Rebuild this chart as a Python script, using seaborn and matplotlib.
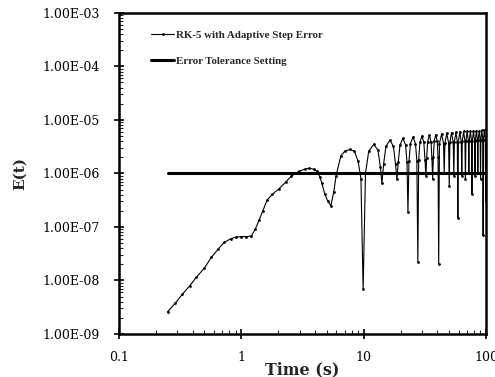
import pandas as pd
import seaborn as sns
import matplotlib.pyplot as plt
from matplotlib.ticker import FixedLocator, FixedFormatter, LogLocator, NullFormatter

# RK-5 error vs time
time_s = [0.25, 0.29, 0.33, 0.38, 0.43, 0.5, 0.57, 0.65, 0.73, 0.82, 0.91, 1.0, 1.1, 1.21,
          1.3, 1.4, 1.5, 1.63, 1.8, 2.04, 2.3, 2.55, 2.97, 3.3, 3.6, 3.9, 4.16, 4.4, 4.56,
          4.8, 5.1, 5.4, 5.7, 5.95, 6.5, 7.0, 7.7, 8.4, 9.0, 9.5, 9.9,
          10.35, 11.0, 12.1, 13.1, 13.7, 14.1,
          14.55, 15.2, 16.4, 17.5, 18.2, 18.7,
          19.15, 19.8, 20.9, 22.0, 22.6, 23.0,
          23.45, 24.1, 25.3, 26.5, 27.2, 27.7,
          28.15, 28.8, 29.9, 31.0, 31.7, 32.2,
          32.7, 33.3, 34.4, 35.5, 36.1, 36.6,
          37.1, 37.7, 38.8, 39.9, 40.5, 41.0,
          41.6, 43.3, 44.9, 45.5,
          46.1, 47.7, 49.4, 50.0,
          50.6, 52.2, 53.9, 54.5,
          55.1, 56.7, 58.2, 58.8,
          59.4, 61.0, 62.7, 63.3,
          63.9, 65.5, 67.2, 67.8,
          68.4, 70.0, 71.7, 72.3,
          72.9, 74.4, 76.0, 76.6,
          77.2, 78.9, 80.5, 81.1,
          81.7, 83.4, 85.0, 85.6,
          86.2, 87.9, 89.5, 90.1,
          90.7, 92.3, 94.0, 94.6,
          95.2, 96.9, 98.5, 99.1, 100.0]
error = [2.6e-9, 3.8e-9, 5.5e-9, 8e-9, 1.15e-8, 1.7e-8, 2.7e-8, 3.9e-8, 5.2e-8, 6.0e-8,
         6.5e-8, 6.6e-8, 6.6e-8, 6.8e-8, 9e-8, 1.35e-7, 2.0e-7, 3.2e-7, 4.1e-7, 5.2e-7,
         6.8e-7, 8.8e-7, 1.1e-6, 1.2e-6, 1.25e-6, 1.2e-6, 1.1e-6, 8.5e-7, 6.5e-7, 4.2e-7,
         3.0e-7, 2.5e-7, 4.5e-7, 9e-7, 2.1e-6, 2.6e-6, 2.8e-6, 2.6e-6, 1.7e-6, 8e-7, 6.8e-9,
         1.0e-6, 2.6e-6, 3.5e-6, 2.7e-6, 1.3e-6, 6.5e-7,
         1.5e-6, 3.2e-6, 4.2e-6, 3.2e-6, 1.5e-6, 7.7e-7,
         1.6e-6, 3.4e-6, 4.5e-6, 3.4e-6, 1.6e-6, 1.9e-7,
         1.7e-6, 3.6e-6, 4.8e-6, 3.6e-6, 1.7e-6, 2.2e-8,
         1.8e-6, 3.8e-6, 5.0e-6, 3.8e-6, 1.8e-6, 9e-7,
         1.9e-6, 3.9e-6, 5.2e-6, 3.9e-6, 1.9e-6, 8e-7,
         2.0e-6, 4.0e-6, 5.3e-6, 4.0e-6, 2.0e-6, 2e-8,
         3.6e-6, 5.5e-6, 3.6e-6, 1e-6,
         3.7e-6, 5.6e-6, 3.7e-6, 5.7e-7,
         3.8e-6, 5.8e-6, 3.8e-6, 9e-7,
         3.9e-6, 5.9e-6, 3.9e-6, 1.5e-7,
         3.9e-6, 6.0e-6, 3.9e-6, 9e-7,
         4.0e-6, 6.1e-6, 4.0e-6, 8e-7,
         4.0e-6, 6.1e-6, 4.0e-6, 1e-6,
         4.1e-6, 6.2e-6, 4.1e-6, 4.2e-7,
         4.1e-6, 6.2e-6, 4.1e-6, 9e-7,
         4.2e-6, 6.3e-6, 4.2e-6, 1e-6,
         4.2e-6, 6.3e-6, 4.2e-6, 8e-7,
         4.3e-6, 6.4e-6, 4.3e-6, 7e-8,
         4.3e-6, 6.4e-6, 4.3e-6, 3e-7, 2.0e-6]

# tolerance setting
tol_time = [0.25, 100.0]
tol_error = [1e-6, 1e-6]

yticks = [1e-9, 1e-8, 1e-7, 1e-6, 1e-5, 1e-4, 1e-3]
ytick_labels = ['1.00E-09', '1.00E-08', '1.00E-07', '1.00E-06', '1.00E-05', '1.00E-04', '1.00E-03']
xticks = [0.1, 1, 10, 100]
xtick_labels = ['0.1', '1', '10', '100']

rk = pd.DataFrame({'t': time_s, 'E': error})
tol = pd.DataFrame({'t': tol_time, 'E': tol_error})

sns.set_style('ticks')
plt.rcParams['font.family'] = ['DejaVu Serif']

fig = plt.figure(figsize=(4.95, 3.77), dpi=100)
ax = fig.add_axes([0.240, 0.114, 0.742, 0.852])

sns.lineplot(data=rk, x='t', y='E', ax=ax, sort=False, estimator=None, color='black',
             lw=0.8, marker='o', markersize=2, markeredgewidth=0,
             label='RK-5 with Adaptive Step Error')
sns.lineplot(data=tol, x='t', y='E', ax=ax, sort=False, estimator=None, color='black',
             lw=2.2, label='Error Tolerance Setting')

ax.set_xscale('log')
ax.set_yscale('log')
ax.set_xlim(0.1, 100)
ax.set_ylim(1e-9, 1e-3)

ax.yaxis.set_major_locator(FixedLocator(yticks))
ax.yaxis.set_major_formatter(FixedFormatter(ytick_labels))
ax.xaxis.set_major_locator(FixedLocator(xticks))
ax.xaxis.set_major_formatter(FixedFormatter(xtick_labels))
ax.yaxis.set_minor_locator(LogLocator(base=10, subs=range(2, 10), numticks=20))
ax.xaxis.set_minor_locator(LogLocator(base=10, subs=range(2, 10), numticks=20))
ax.yaxis.set_minor_formatter(NullFormatter())
ax.xaxis.set_minor_formatter(NullFormatter())

ax.tick_params(which='major', direction='inout', length=7, width=1.2, labelsize=9,
               color='black', labelcolor='black')
ax.tick_params(axis='y', which='major', pad=10)
ax.tick_params(axis='x', which='major', pad=9)
ax.tick_params(which='minor', direction='in', length=3, width=0.8)

for s in ax.spines.values():
    s.set_linewidth(1.8)
    s.set_color('black')

ax.set_xlabel('Time (s)', fontsize=11.5, fontweight='bold', labelpad=0)
ax.xaxis.set_label_coords(0.5, -0.085)
ax.set_ylabel('E(t)', fontsize=11, fontweight='bold', labelpad=11)

leg = ax.legend(loc='upper left', bbox_to_anchor=(0.06, 0.975), frameon=False,
                handlelength=2.2, handletextpad=0.1, labelspacing=1.5,
                prop={'family': 'Liberation Serif', 'weight': 'bold', 'size': 7.8})

fig.savefig('out.png', dpi=100)
